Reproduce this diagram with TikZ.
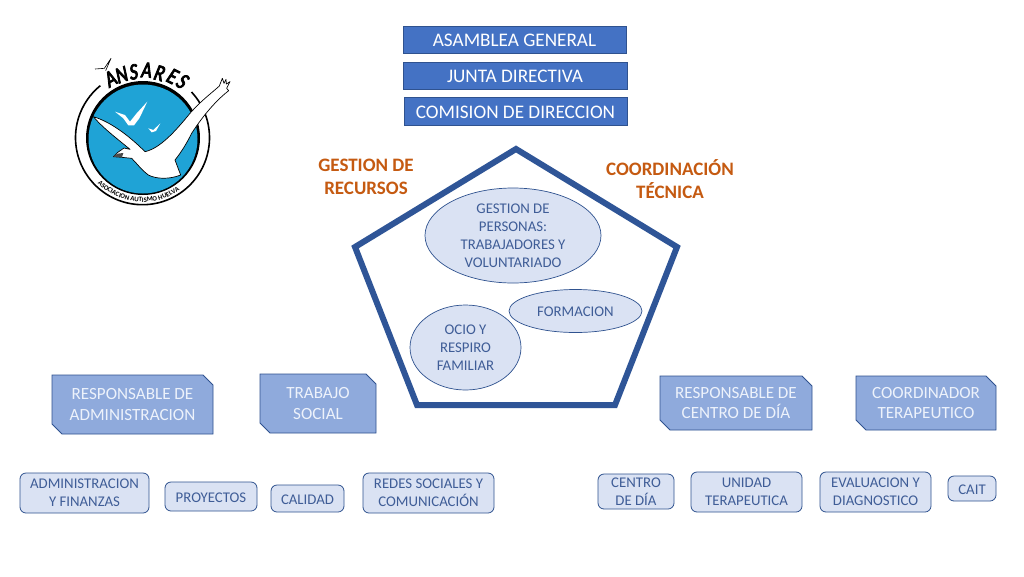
\documentclass[tikz,border=0pt]{standalone}
\usepackage{fontspec}
\setmainfont{Carlito}
\newfontfamily\logofont[FakeStretch=0.78,FakeBold=3.5,FakeSlant=0.12]{Carlito}
\usetikzlibrary{shapes.geometric,shapes.misc,decorations.text}
\definecolor{topfill}{HTML}{4472C4}
\definecolor{edgeblue}{HTML}{2F528F}
\definecolor{penta}{HTML}{2F5597}
\definecolor{midfill}{HTML}{8FAADC}
\definecolor{midtext}{HTML}{EDF2FB}
\definecolor{lightfill}{HTML}{DAE2F3}
\definecolor{darktext}{HTML}{3F5D97}
\definecolor{headcol}{HTML}{C55A11}
\definecolor{logoblue}{HTML}{1FA3D6}
\tikzset{
  nudge/.style={align=center,execute at begin node={\rule{0pt}{0.78em}}},
  topbox/.style={nudge,draw=edgeblue,fill=topfill,text=white,line width=0.8pt,inner sep=0pt,outer sep=0pt,font=\fontsize{19.2}{22}\selectfont},
  heading/.style={text=headcol,align=center,inner sep=0pt,font=\fontsize{19}{22.5}\selectfont\bfseries},
  bubble/.style={ellipse,nudge,draw=edgeblue,fill=lightfill,text=darktext,line width=0.7pt,inner sep=0pt,outer sep=0pt,font=\fontsize{14.8}{18}\selectfont},
  snipbox/.style={chamfered rectangle,chamfered rectangle corners={north east,south west},chamfered rectangle xsep=5pt,chamfered rectangle ysep=5pt,nudge,draw=edgeblue,fill=midfill,text=midtext,line width=0.8pt,inner sep=0pt,outer sep=0pt,font=\fontsize{17.1}{20.8}\selectfont},
  smallbox/.style={rounded corners=6pt,nudge,draw=edgeblue,fill=lightfill,text=darktext,line width=0.8pt,inner sep=0pt,outer sep=0pt,font=\fontsize{14.8}{18}\selectfont},
  logoletter/.style={inner sep=0pt,text=black,font=\fontsize{23}{24}\logofont},
}
\begin{document}
\begin{tikzpicture}[x=1pt,y=-1pt]
\useasboundingbox (0,0) rectangle (1024,576);
\fill[white] (0,0) rectangle (1024,576);

% logo
\draw[black,line width=1.6pt] (191.5,92) arc[start angle=-43,end angle=231,radius=67];
\fill[black] (143,138) circle[radius=57];
\fill[logoblue] (143,139) circle[radius=54.5];
\path[decorate,decoration={text along path,text align=center,text={|\fontsize{6.8}{7}\selectfont\bfseries|ASOCIACION  AUTISMO  HUELVA}}] (97.7,183.3) arc[start angle=135,end angle=55,radius=64];
\begin{scope}[shift={(60,50)},scale=1/3]
  \draw[black,line width=0.7pt,fill=white,line join=round]
    (100,200) .. controls (150,215) and (205,255) .. (255,305)
    .. controls (300,295) and (345,245) .. (390,190)
    .. controls (425,150) and (460,125) .. (478,108)
    -- (487,85) -- (492,100) -- (498,88) -- (499,102) -- (510,95) -- (500,115) -- (506,122)
    .. controls (470,150) and (430,195) .. (395,250)
    .. controls (380,280) and (365,305) .. (345,330)
    -- (362,375)
    .. controls (330,388) and (290,388) .. (265,375)
    .. controls (245,360) and (230,340) .. (215,325)
    -- (185,322) -- (160,320) -- (172,308) -- (192,294) -- (210,298)
    .. controls (170,265) and (130,235) .. (100,200) -- cycle;
  \fill[black!70] (160,320) -- (172,311) -- (190,309) -- (186,322) -- cycle;
  \fill[white] (165,185) -- (195,195) -- (210,215) -- (230,190) -- (262,155) -- (238,205) -- (222,226) -- (205,226) -- (190,205) -- cycle;
  \fill[white] (265,235) -- (280,240) -- (301,220) -- (288,243) -- (275,247) -- cycle;
  \draw[black,line width=0.6pt,line join=round] (105,57) -- (133,55) -- (153,25) -- (137,62);
\end{scope}
\node[logoletter,rotate=29] (la) at (110,79) {A};
\node[logoletter,rotate=19] (ln) at (121,75) {N};
\node[logoletter,rotate=9] (ls) at (133,72) {S};
\node[logoletter,rotate=-3] (lb) at (146,70) {A};
\node[logoletter,rotate=-15] (lr) at (159,73) {R};
\node[logoletter,rotate=-27] (le) at (172,76) {E};
\node[logoletter,rotate=-35] (lt) at (182,81) {S};

% top boxes
\node[topbox,minimum width=223pt,minimum height=27pt] (asamblea) at (514.5,39.5) {ASAMBLEA GENERAL};
\node[topbox,minimum width=224pt,minimum height=27pt] (junta) at (515,75.5) {JUNTA DIRECTIVA};
\node[topbox,minimum width=223pt,minimum height=28pt] (comision) at (515.5,111) {COMISION DE DIRECCION};

% headings
\node[heading] (recursos) at (366,177) {GESTION DE\\RECURSOS};
\node[heading] (coord) at (670,179) {COORDINACIÓN\\TÉCNICA};

% pentagon
\draw[penta,line width=6pt,miter limit=10] (516,149) -- (677,247) -- (615,405) -- (417,405) -- (355,247) -- cycle;

% bubbles
\node[bubble,minimum width=176pt,minimum height=95pt] (personas) at (513,235.5) {GESTION DE\\PERSONAS:\\TRABAJADORES Y\\VOLUNTARIADO};
\node[bubble,minimum width=133pt,minimum height=43pt] (formacion) at (575.5,311) {FORMACION};
\node[bubble,minimum width=111pt,minimum height=85pt] (ocio) at (465.5,347.5) {OCIO Y\\RESPIRO\\FAMILIAR};

% middle boxes
\node[snipbox,minimum width=161pt,minimum height=59pt] (admin) at (132.5,404.5) {RESPONSABLE DE\\ADMINISTRACION};
\node[snipbox,minimum width=116pt,minimum height=59pt] (trabajo) at (318,403.5) {TRABAJO\\SOCIAL};
\node[snipbox,minimum width=152pt,minimum height=54pt] (centro) at (736,403) {RESPONSABLE DE\\CENTRO DE DÍA};
\node[snipbox,minimum width=140pt,minimum height=54pt] (coordt) at (926,403) {COORDINADOR\\TERAPEUTICO};

% small boxes
\node[smallbox,minimum width=129pt,minimum height=40pt] (s1) at (84.5,493) {ADMINISTRACION\\Y FINANZAS};
\node[smallbox,minimum width=92pt,minimum height=29pt] (s2) at (211,496.5) {PROYECTOS};
\node[smallbox,minimum width=73pt,minimum height=27pt] (s3) at (307.5,498.5) {CALIDAD};
\node[smallbox,minimum width=131pt,minimum height=40pt] (s4) at (428.5,493) {REDES SOCIALES Y\\COMUNICACIÓN};
\node[smallbox,minimum width=76pt,minimum height=35pt] (s5) at (636,491.5) {CENTRO\\DE DÍA};
\node[smallbox,minimum width=111pt,minimum height=40pt] (s6) at (746.5,492) {UNIDAD\\TERAPEUTICA};
\node[smallbox,minimum width=111pt,minimum height=40pt] (s7) at (875.5,492) {EVALUACION Y\\DIAGNOSTICO};
\node[smallbox,minimum width=48pt,minimum height=25pt] (s8) at (972,488.5) {CAIT};
\end{tikzpicture}
\end{document}
